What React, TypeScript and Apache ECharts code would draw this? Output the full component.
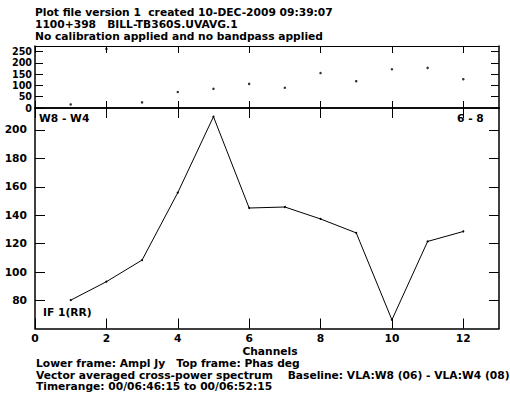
import React, { useEffect, useRef } from "react";
import * as echarts from "echarts";

// Channel numbers shared by both frames
const channels = [1, 2, 3, 4, 5, 6, 7, 8, 9, 10, 11, 12];
// Top frame: phase in degrees
const phaseDeg = [16, 262, 25, 71, 85, 107, 90, 155, 119, 172, 178, 128];
// Lower frame: amplitude in Jy
const amplJy = [80.3, 93.3, 108.5, 155.9, 209.3, 145.1, 145.8, 137.4, 127.6, 66.5, 121.6, 128.6];

const xTicks = [0, 2, 4, 6, 8, 10, 12];
const phaseTicks = [0, 50, 100, 150, 200, 250];
const amplTicks = [80, 100, 120, 140, 160, 180, 200];

const titleLines = [
  "Plot file version 1  created 10-DEC-2009 09:39:07",
  "1100+398   BILL-TB360S.UVAVG.1",
  "No calibration applied and no bandpass applied",
];
const footerLines = [
  "Lower frame: Ampl Jy   Top frame: Phas deg",
  "Vector averaged cross-power spectrum    Baseline: VLA:W8 (06) - VLA:W4 (08)",
  "Timerange: 00/06:46:15 to 00/06:52:15",
];

const FONT = "'DejaVu Sans', 'Liberation Sans', Arial, sans-serif";
const FS = 10.7;
// phase-frame tick labels sit only ~11px apart, so they use a tighter size
const FS_PHASE = 9.6;

export default function App() {
  const ref = useRef<HTMLDivElement>(null);

  useEffect(() => {
    if (!ref.current) return;
    const chart = echarts.init(ref.current, undefined, { renderer: "svg" });

    const textStyle = (size: number) => ({
      fontFamily: FONT,
      fontWeight: "bold" as const,
      fontSize: size,
      lineHeight: 10,
      color: "#000",
    });

    const xAxisBase = (
      gridIndex: number,
      position: "top" | "bottom",
      tickLen: number,
      labels: boolean,
      lineW: number
    ) => ({
      type: "value" as const,
      gridIndex,
      position,
      min: 0,
      max: 13,
      axisLine: { show: true, onZero: false, lineStyle: { color: "#000", width: lineW } },
      axisTick: {
        show: true,
        inside: true,
        length: tickLen,
        customValues: xTicks,
        lineStyle: { color: "#000", width: 1 },
      },
      axisLabel: labels
        ? { show: true, customValues: xTicks, margin: 5, showMinLabel: true, showMaxLabel: true, ...textStyle(FS) }
        : { show: false },
      splitLine: { show: false },
    });

    const yAxisBase = (
      gridIndex: number,
      position: "left" | "right",
      min: number,
      max: number,
      ticks: number[],
      tickLen: number,
      labels: boolean,
      margin: number,
      lineW: number,
      size: number
    ) => ({
      type: "value" as const,
      gridIndex,
      position,
      min,
      max,
      axisLine: { show: true, onZero: false, lineStyle: { color: "#000", width: lineW } },
      axisTick: {
        show: true,
        inside: true,
        length: tickLen,
        customValues: ticks,
        lineStyle: { color: "#000", width: 1 },
      },
      axisLabel: labels
        ? { show: true, customValues: ticks, margin, showMinLabel: true, showMaxLabel: true, ...textStyle(size) }
        : { show: false },
      splitLine: { show: false },
    });

    const label = (text: string, x: number, y: number, align: "left" | "center" = "left") => ({
      type: "text",
      x,
      y,
      style: {
        text,
        font: `bold ${FS}px ${FONT}`,
        fill: "#000",
        align,
        verticalAlign: "middle",
      },
    });

    const graphics: any[] = [];
    titleLines.forEach((t, i) => graphics.push(label(t, 35, 12.9 + i * 11.8)));
    footerLines.forEach((t, i) => graphics.push(label(t, 36, 363.7 + i * 11.5)));
    graphics.push(
      label("Channels", 270, 351, "center"),
      label("W8 - W4", 39, 118.3),
      label("6 - 8", 457, 118.3),
      label("IF 1(RR)", 43, 312.5)
    );

    chart.setOption({
      animation: false,
      backgroundColor: "#fff",
      grid: [
        { left: 35, top: 46, width: 464, height: 62 },
        { left: 35, top: 108, width: 464, height: 220.5 },
      ],
      xAxis: [
        xAxisBase(0, "bottom", 7, false, 1.5),
        xAxisBase(0, "top", 7, false, 1),
        xAxisBase(1, "bottom", 10, true, 1.5),
        xAxisBase(1, "top", 10, false, 1.5),
      ],
      yAxis: [
        yAxisBase(0, "left", 0, 275, phaseTicks, 8, true, 3, 1.5, FS_PHASE),
        yAxisBase(0, "right", 0, 275, phaseTicks, 8, false, 0, 1.5, FS_PHASE),
        yAxisBase(1, "left", 60.4, 215.4, amplTicks, 10, true, 8, 1.5, FS),
        yAxisBase(1, "right", 60.4, 215.4, amplTicks, 10, false, 0, 1.5, FS),
      ],
      graphic: graphics,
      series: [
        {
          type: "scatter",
          xAxisIndex: 0,
          yAxisIndex: 0,
          data: channels.map((c, i) => [c, phaseDeg[i]]),
          symbol: "circle",
          symbolSize: 2.5,
          itemStyle: { color: "#000" },
        },
        {
          type: "line",
          xAxisIndex: 2,
          yAxisIndex: 2,
          data: channels.map((c, i) => [c, amplJy[i]]),
          symbol: "circle",
          symbolSize: 2,
          showSymbol: true,
          itemStyle: { color: "#000" },
          lineStyle: { color: "#000", width: 1 },
        },
      ],
    });

    return () => chart.dispose();
  }, []);

  return (
    <div
      ref={ref}
      style={{ position: "absolute", left: 0, top: 0, width: 510, height: 403, background: "#fff" }}
    />
  );
}
